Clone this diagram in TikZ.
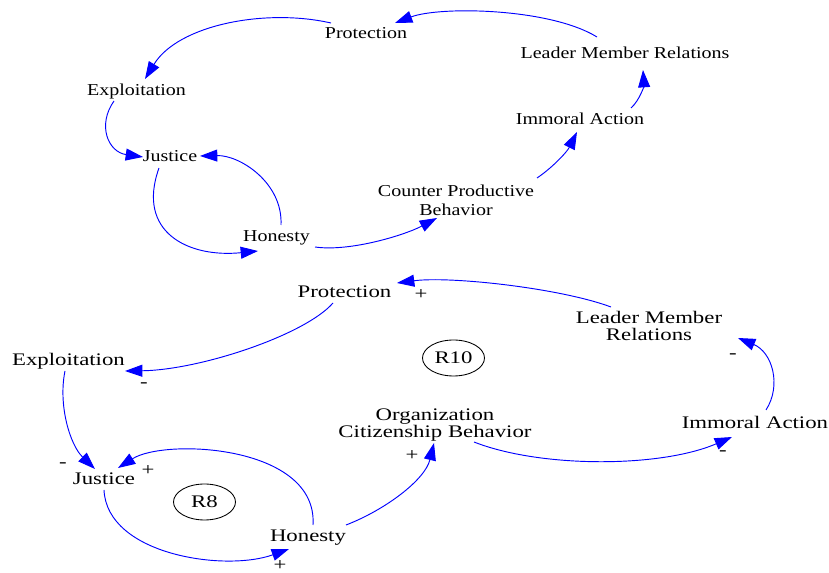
\documentclass[tikz,border=0pt]{standalone}
\usepackage{fontspec}
\setmainfont{Liberation Serif}
\newfontfamily\upperface{Liberation Serif}[FakeStretch=1.2]
\newfontfamily\lowerface{Liberation Serif}[FakeStretch=1.29]
\usetikzlibrary{arrows.meta,calc,shapes.geometric}

\tikzset{
  uplbl/.style={font=\upperface\fontsize{12.5pt}{14.25pt}\selectfont, inner sep=0pt, align=center},
  lowlbl/.style={font=\lowerface\fontsize{13.25pt}{13pt}\selectfont, inner sep=0pt, align=center},
  sign/.style={lowlbl},
  loopmark/.style={lowlbl, draw=black, line width=0.65pt, ellipse, minimum width=46.5pt, minimum height=27pt},
  link/.style={draw={rgb,255:red,0;green,0;blue,255}, line width=0.7pt,
    -{Triangle[length=13pt,width=9pt]}, fill=none},
}

\begin{document}
\begin{tikzpicture}[x=0.75pt,y=-0.75pt]
\useasboundingbox (0,0) rectangle (829,573);

% ---------- upper diagram: counter productive behaviour loop ----------
\node[uplbl, anchor=base] (prot1) at (366,39) {Protection};
\node[uplbl, anchor=base] (lmr1)  at (625,59) {Leader Member Relations};
\node[uplbl, anchor=base] (expl1) at (136.5,96) {Exploitation};
\node[uplbl, anchor=base] (just1) at (170,162) {Justice};
\node[uplbl, anchor=base] (imm1)  at (580,125) {Immoral Action};
\node[uplbl] (cpb1) at (456,200) {Counter Productive\\Behavior};
\node[uplbl, anchor=base] (hon1)  at (276.5,242) {Honesty};

\path[link] ($(lmr1.base)+(-28,-22)$) .. controls (550,8) and (440,6) .. ($(prot1.base)+(29,-16)$);
\path[link] ($(prot1.base)+(-35,-16)$) .. controls (265,8) and (178,25) .. ($(expl1.base)+(8.5,-17)$);
\path[link] ($(expl1.base)+(-22.5,5)$) .. controls (97,125) and (108,152) .. ($(just1.base)+(-27,-5)$);
\path[link] ($(just1.base)+(-11,6)$) .. controls (136,232) and (188,258) .. ($(hon1.base)+(-18.5,9)$);
\path[link] ($(hon1.base)+(4.5,-17)$) .. controls (283,183) and (240,155) .. ($(just1.base)+(30,-6)$);
\path[link] ($(hon1.base)+(38.5,5)$) .. controls (350,252) and (405,235) .. ($(cpb1)+(-19,18)$);
\path[link] ($(cpb1)+(81,-22)$) .. controls (552,168) and (567,152) .. ($(imm1.base)+(-3,7)$);
\path[link] ($(imm1.base)+(51,-17)$) .. controls (640,100) and (644,85) .. ($(lmr1.base)+(18,11)$);

% ---------- lower diagram: organization citizenship behaviour loops ----------
\node[lowlbl, anchor=base] (prot2) at (344.5,298) {Protection};
\node[lowlbl] (lmr2) at (649,326) {Leader Member\\Relations};
\node[lowlbl, anchor=base] (expl2) at (68.5,366) {Exploitation};
\node[lowlbl, anchor=base] (just2) at (104,485) {Justice};
\node[lowlbl, anchor=base] (hon2)  at (308,542) {Honesty};
\node[lowlbl] (ocb2) at (435,425) {Organization\\Citizenship Behavior};
\node[lowlbl, anchor=base] (imm2)  at (755,429) {Immoral Action};

\node[loopmark] (r10) at (453.5,358) {R10};
\node[loopmark] (r8)  at (204.5,502) {R8};

\node[sign] (s1) at (421,295) {+};
\node[sign] (s2) at (144,385) {-};
\node[sign] (s3) at (733,356) {-};
\node[sign] (s4) at (723,453) {-};
\node[sign] (s5) at (412,456) {+};
\node[sign] (s6) at (63,465) {-};
\node[sign] (s7) at (148,471) {+};
\node[sign] (s8) at (280,566) {+};

\path[link] ($(lmr2)+(-38,-19)$) .. controls (560,288) and (450,276) .. ($(prot2.base)+(52.5,-15)$);
\path[link] ($(prot2.base)+(-11.5,5)$) .. controls (305,335) and (200,370) .. ($(expl2.base)+(56.5,5)$);
\path[link] ($(expl2.base)+(-3.5,5)$) .. controls (58,405) and (70,445) .. ($(just2.base)+(-9,-16)$);
\path[link] ($(hon2.base)+(5,-17)$) .. controls (318,445) and (165,438) .. ($(just2.base)+(14,-17)$);
\path[link] ($(just2.base)+(0,5)$) .. controls (107,555) and (225,572) .. ($(hon2.base)+(-19,7)$);
\path[link] ($(hon2.base)+(38,-17)$) .. controls (385,510) and (425,480) .. ($(ocb2)+(-1,18)$);
\path[link] ($(ocb2)+(39,17)$) .. controls (540,468) and (660,468) .. ($(imm2.base)+(-23,8)$);
\path[link] ($(imm2.base)+(11,-19)$) .. controls (782,385) and (772,352) .. ($(lmr2)+(89,12)$);
\end{tikzpicture}
\end{document}
